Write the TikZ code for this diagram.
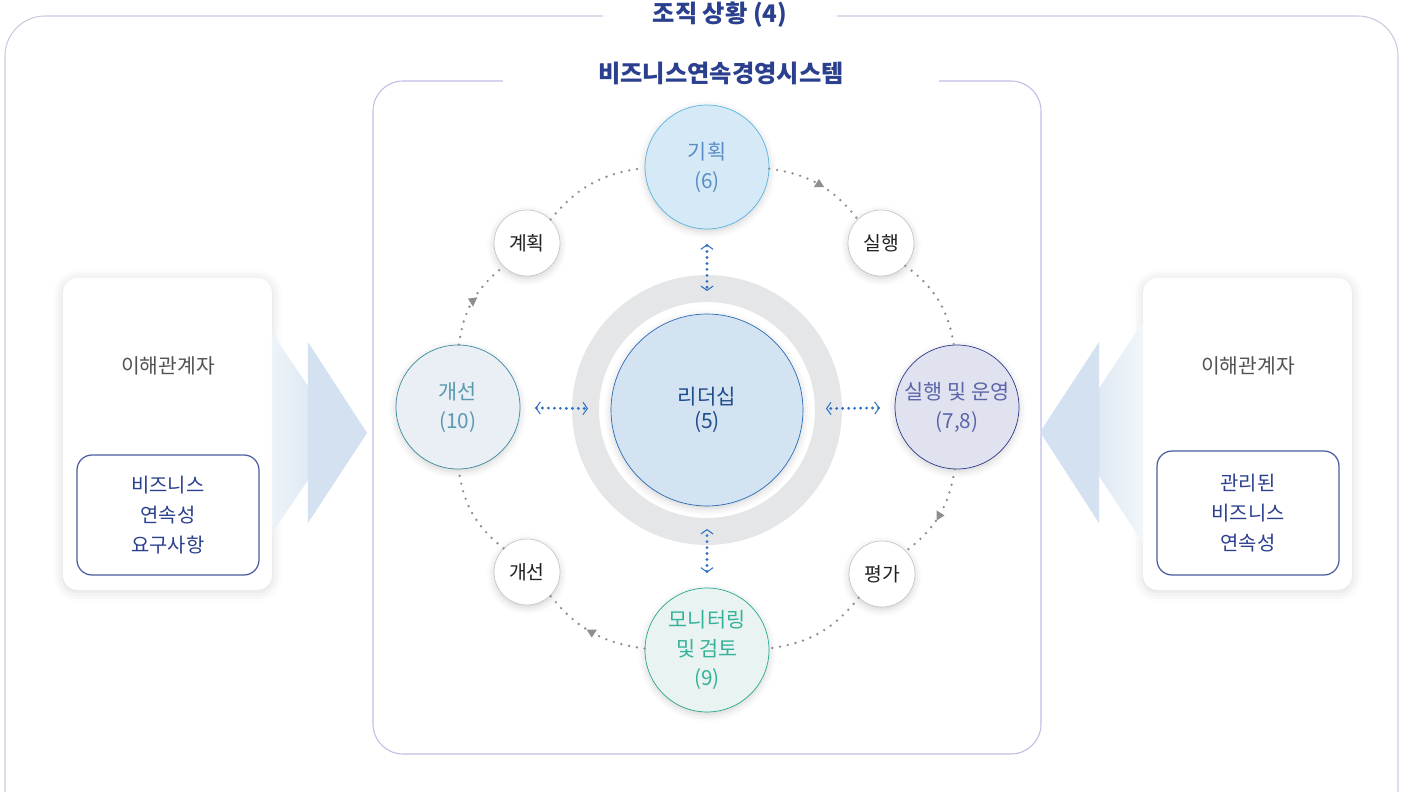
\documentclass[tikz,border=0pt]{standalone}
\usepackage{fontspec}
\setmainfont{Noto Sans CJK KR}
\usepackage{xcolor}
\usepackage{tikz}
\usetikzlibrary{shapes,arrows.meta,decorations.markings,shadows.blur}
\definecolor{navy}{HTML}{2B3F8F}
\definecolor{frame}{HTML}{C9C9DF}
\definecolor{inframe}{HTML}{BDBDE6}
\definecolor{ringgray}{HTML}{E5E6E8}
\definecolor{arcgray}{HTML}{8E8E8E}
\definecolor{arrblue}{HTML}{2F72C0}
\definecolor{chev}{HTML}{D3E1F0}
\definecolor{ldline}{HTML}{2A6CB8}
\definecolor{ldfill}{HTML}{D4E3F2}
\definecolor{ldtext}{HTML}{1F4E8C}
\definecolor{plline}{HTML}{5AB4E0}
\definecolor{plfill}{HTML}{D5E9F6}
\definecolor{pltext}{HTML}{5B8DC6}
\definecolor{opline}{HTML}{2C3A8E}
\definecolor{opfill}{HTML}{E1E2F0}
\definecolor{optext}{HTML}{5A66A8}
\definecolor{mnline}{HTML}{2BA890}
\definecolor{mnfill}{HTML}{E9F3F2}
\definecolor{mntext}{HTML}{35B29A}
\definecolor{imline}{HTML}{3B8BA0}
\definecolor{imfill}{HTML}{E9EFF4}
\definecolor{imtext}{HTML}{5A99AF}
\tikzset{big/.style={circle,draw,minimum size=2.48cm,inner sep=0pt,align=center,font=\fontsize{11.8}{16.5}\selectfont,
        blur shadow={shadow xshift=0pt,shadow yshift=-1.5pt,shadow blur radius=4pt,shadow opacity=18}}}
\tikzset{sml/.style={circle,draw=black!22,fill=white,text=black!87,minimum size=1.32cm,inner sep=0pt,font=\fontsize{11}{12}\selectfont,
        blur shadow={shadow xshift=0pt,shadow yshift=-1.5pt,shadow blur radius=4pt,shadow opacity=18}}}
\tikzset{dots/.style={draw=arcgray,line width=1.5pt,dash pattern=on 0pt off 4.5pt,line cap=round}}
\tikzset{tri/.style={isosceles triangle,isosceles triangle apex angle=65,fill=arcgray,draw=none,inner sep=0pt,minimum size=0.16cm}}
\tikzset{midtri/.style={postaction={decorate,decoration={markings,mark=at position 0.5 with {\node[tri,rotate=#1]{};}}}}}
\tikzset{biarr/.style={draw=arrblue,line width=1.8pt,dash pattern=on 0pt off 3.4pt,line cap=round,
        {Straight Barb[line width=0.6pt,length=2.5pt,width=7pt]}-{Straight Barb[line width=0.6pt,length=2.5pt,width=7pt]},
        shorten <=0.3cm,shorten >=-0.05cm}}
\tikzset{panel/.style={rectangle,rounded corners=0.3cm,fill=white,minimum width=4.18cm,minimum height=6.24cm,
        blur shadow={shadow xshift=0pt,shadow yshift=-1pt,shadow blur radius=6pt,shadow opacity=15}}}
\tikzset{box/.style={rectangle,rounded corners=0.3cm,draw=navy!85,line width=0.7pt,minimum width=3.64cm,text=navy,
        align=center,font=\fontsize{11.3}{17}\selectfont}}
\tikzset{who/.style={text=black!68,font=\fontsize{11.6}{12}\selectfont}}

\begin{document}
\begin{tikzpicture}[x=0.02cm,y=0.02cm]
        \useasboundingbox (-707,-381) rectangle (698,410);

        \draw [frame,line width=0.6pt,rounded corners=0.8cm] (-702,394) rectangle (691,-420);
        \node[fill=white,minimum width=4.7cm,text=navy,font=\fontsize{13.8}{15}\selectfont\bfseries] (t1) at (13,395) {조직 상황 (4)};
        \draw [inframe,line width=0.6pt,rounded corners=0.6cm] (-334,329) rectangle (334,-344);
        \node[fill=white,minimum width=8.74cm,text=navy,font=\fontsize{13.8}{15}\selectfont\bfseries] (t2) at (14,337) {비즈니스연속경영시스템};

        \node[panel] (lp) at (-539.5,-24) {};
        \node[who] (lw) at (-539,44) {이해관계자};
        \node[box,minimum height=2.4cm] (lb) at (-539,-105) {비즈니스\\연속성\\요구사항};
        \node[panel] (rp) at (540.5,-24) {};
        \node[who] (rw) at (541,44) {이해관계자};
        \node[box,minimum height=2.48cm] (rb) at (541,-103) {관리된\\비즈니스\\연속성};

        \shade [left color=chev!40,right color=chev] (-435,77) -- (-367,-23) -- (-435,-123) -- cycle;
        \fill [chev] (-399,68) -- (-340,-23) -- (-399,-113) -- cycle;
        \shade [right color=chev!30,left color=chev] (436,88) -- (363,-22) -- (436,-133) -- cycle;
        \fill [chev] (392,68) -- (333,-22) -- (392,-113) -- cycle;

        \node[circle,draw=ringgray,line width=0.54cm,minimum size=4.86cm,inner sep=0pt,outer sep=0pt] (ring) at (0,0) {};
        \node[big,draw=ldline,fill=ldfill,text=ldtext,minimum size=3.84cm,font=\fontsize{12}{13.5}\selectfont] (ld) at (0,0) {리더십\\(5)};

        \node[big,draw=plline,fill=plfill,text=pltext] (pl) at (0,243) {기획\\(6)};
        \node[big,draw=opline,fill=opfill,text=optext] (op) at (250,3) {실행 및 운영\\(7,8)};
        \node[big,draw=mnline,fill=mnfill,text=mntext] (mn) at (0,-240) {모니터링\\및 검토\\(9)};
        \node[big,draw=imline,fill=imfill,text=imtext] (im) at (-249,3) {개선\\(10)};

        \node[sml] (s1) at (-180,167) {계획};
        \node[sml] (s2) at (174,167) {실행};
        \node[sml] (s3) at (175,-164) {평가};
        \node[sml] (s4) at (-180,-162) {개선};

        \draw [dots,midtri=90] (pl) to [bend left=22] (s2);
        \draw [dots] (s2) to [bend left=22] (op);
        \draw [dots,midtri=0] (op) to [bend left=22] (s3);
        \draw [dots] (s3) to [bend left=22] (mn);
        \draw [dots,midtri=270] (mn) to [bend left=22] (s4);
        \draw [dots] (s4) to [bend left=22] (im);
        \draw [dots,midtri=155] (im) to [bend left=22] (s1);
        \draw [dots] (s1) to [bend left=22] (pl);

        \draw [biarr] (pl) -- (ring);
        \draw [biarr] (op) -- (ring);
        \draw [biarr] (mn) -- (ring);
        \draw [biarr] (im) -- (ring);
    \end{tikzpicture}
\end{document}
